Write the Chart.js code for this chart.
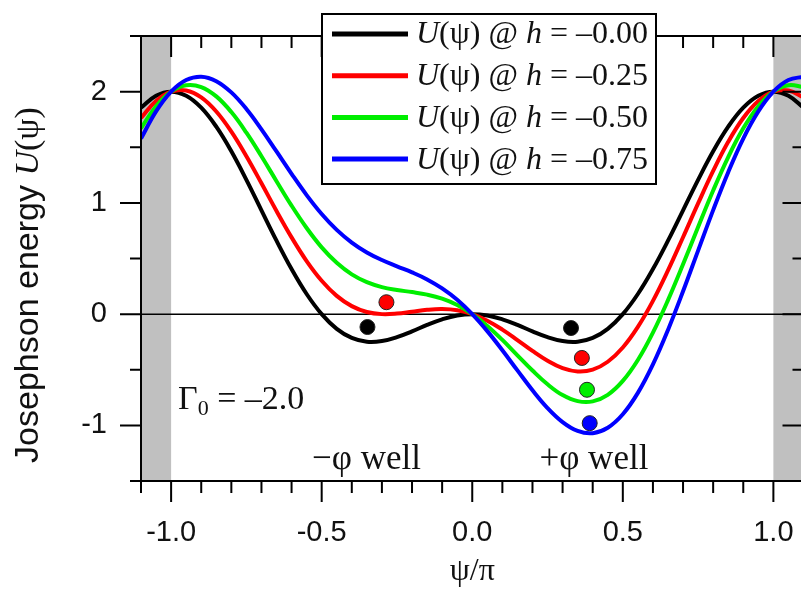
<!DOCTYPE html>
<html>
<head>
<meta charset="utf-8">
<script src="https://cdn.jsdelivr.net/npm/chart.js@4.4.0/dist/chart.umd.min.js"></script>
<style>
html, body { margin: 0; padding: 0; background: #fff; overflow: hidden; }
#wrap { position: absolute; left: 0; top: 0; width: 812px; height: 589px; }
</style>
</head>
<body>
<div id="wrap"><canvas id="chart1" width="812" height="589"></canvas></div>
<script>
/* ---------------- data ---------------- */
const psi = [-1.10, -1.05, -1.00, -0.95, -0.90, -0.85, -0.80, -0.75, -0.70, -0.65, -0.60, -0.55,
             -0.50, -0.45, -0.40, -0.35, -0.30, -0.25, -0.20, -0.15, -0.10, -0.05, 0.00,
              0.05, 0.10, 0.15, 0.20, 0.25, 0.30, 0.35, 0.40, 0.45, 0.50, 0.55, 0.60, 0.65,
              0.70, 0.75, 0.80, 0.85, 0.90, 0.95, 1.00, 1.05, 1.10];

const u000 = [1.856, 1.963, 2.000, 1.963, 1.856, 1.685, 1.464, 1.207, 0.933, 0.660, 0.405, 0.181,
              0.000, -0.132, -0.214, -0.248, -0.242, -0.207, -0.155, -0.097, -0.047, -0.012, 0.000,
              -0.012, -0.047, -0.097, -0.155, -0.207, -0.242, -0.248, -0.214, -0.132, 0.000, 0.181,
              0.405, 0.660, 0.933, 1.207, 1.464, 1.685, 1.856, 1.963, 2.000, 1.963, 1.856];
const u025 = [1.763, 1.916, 2.000, 2.010, 1.948, 1.821, 1.640, 1.419, 1.176, 0.927, 0.690, 0.477,
              0.300, 0.164, 0.072, 0.019, 0.000, 0.005, 0.022, 0.039, 0.046, 0.035, 0.000,
              -0.059, -0.139, -0.233, -0.331, -0.419, -0.485, -0.515, -0.499, -0.428, -0.300, -0.115,
              0.119, 0.393, 0.691, 0.995, 1.287, 1.549, 1.763, 1.916, 2.000, 2.010, 1.948];
const u050 = [1.670, 1.869, 2.000, 2.057, 2.041, 1.957, 1.816, 1.631, 1.419, 1.195, 0.975, 0.774,
              0.600, 0.461, 0.357, 0.287, 0.243, 0.217, 0.198, 0.175, 0.139, 0.082, 0.000,
              -0.106, -0.232, -0.370, -0.507, -0.631, -0.728, -0.782, -0.784, -0.725, -0.600, -0.412,
              -0.166, 0.126, 0.448, 0.783, 1.111, 1.412, 1.670, 1.869, 2.000, 2.057, 2.041];
const u075 = [1.578, 1.822, 2.000, 2.104, 2.134, 2.094, 1.993, 1.844, 1.661, 1.462, 1.261, 1.070,
              0.900, 0.757, 0.643, 0.554, 0.486, 0.429, 0.375, 0.312, 0.231, 0.129, 0.000,
              -0.153, -0.325, -0.506, -0.684, -0.844, -0.970, -1.050, -1.070, -1.021, -0.900, -0.708,
              -0.452, -0.142, 0.205, 0.571, 0.935, 1.276, 1.578, 1.822, 2.000, 2.104, 2.134];

const hLabels = ['–0.00', '–0.25', '–0.50', '–0.75'];

// marked well minima
const dotX = [-0.348, -0.285, 0.328, 0.364, 0.381, 0.390];
const dotY = [-0.116, 0.107, -0.125, -0.394, -0.680, -0.980];
const dotColors = ['#000000', '#ff0000', '#000000', '#ff0000', '#00ee00', '#0000ff'];

// shaded ranges outside [-pi, pi]
const bands = [[-1.1, -1.0], [1.0, 1.1]];

const xMajorTicks = [-1.0, -0.5, 0.0, 0.5, 1.0];
const yMajorTicks = [-1, 0, 1, 2];

/* ---------------- chart ---------------- */
const lineColors = ['#000000', '#ff0000', '#00ee00', '#0000ff'];
const seriesList = [u000, u025, u050, u075];

const datasets = seriesList.map((vals, k) => ({
    type: 'line',
    label: 'U(ψ) @ h = ' + hLabels[k],
    data: psi.map((x, i) => ({ x: x, y: vals[i] })),
    borderColor: lineColors[k],
    borderWidth: 4,
    pointRadius: 0,
    tension: 0.4,
    fill: false,
    order: 4 - k
}));
datasets.push({
    type: 'scatter',
    label: 'wells',
    data: dotX.map((x, i) => ({ x: x, y: dotY[i] })),
    pointRadius: 7.5,
    pointBackgroundColor: dotColors,
    pointBorderColor: '#222',
    pointBorderWidth: 1,
    order: 0
});

const SERIF = '"Liberation Serif", "Times New Roman", serif';
const SANS = '"Liberation Sans", Arial, sans-serif';

function drawPieces(ctx, pieces, x, y, size) {
    // pieces: [text, italic, family]
    pieces.forEach(p => {
        ctx.font = (p[1] ? 'italic ' : '') + size + 'px ' + (p[2] || SERIF);
        ctx.fillText(p[0], x, y);
        x += ctx.measureText(p[0]).width;
    });
    return x;
}

function piecesWidth(ctx, pieces, size) {
    let w = 0;
    pieces.forEach(p => {
        ctx.font = (p[1] ? 'italic ' : '') + size + 'px ' + (p[2] || SERIF);
        w += ctx.measureText(p[0]).width;
    });
    return w;
}

function noPad(s) {
    s.paddingLeft = 0; s.paddingRight = 0; s.paddingTop = 0; s.paddingBottom = 0;
}

const decor = {
    id: 'decor',
    beforeDatasetsDraw(chart) {
        const { ctx, chartArea: a, scales: { x, y } } = chart;
        ctx.save();
        ctx.fillStyle = '#c0c0c0';
        bands.forEach(b => {
            const x0 = x.getPixelForValue(b[0]), x1 = x.getPixelForValue(b[1]);
            ctx.fillRect(x0, a.top, x1 - x0, a.bottom - a.top);
        });
        ctx.strokeStyle = '#000';
        ctx.lineWidth = 1.5;
        ctx.beginPath();
        ctx.moveTo(a.left, y.getPixelForValue(0));
        ctx.lineTo(a.right, y.getPixelForValue(0));
        ctx.stroke();
        ctx.restore();
    },
    afterDraw(chart) {
        const { ctx, chartArea: a, scales: { x, y } } = chart;
        ctx.save();
        ctx.strokeStyle = '#000';
        ctx.lineWidth = 2;
        ctx.lineCap = 'butt';

        // frame
        ctx.strokeRect(a.left, a.top, a.right - a.left, a.bottom - a.top);

        // ticks, outside on bottom/left, inside on top/right
        ctx.beginPath();
        for (let i = -11; i <= 11; i++) {
            const px = x.getPixelForValue(i / 10);
            const len = (i % 5 === 0) ? 21 : 12;
            ctx.moveTo(px, a.bottom); ctx.lineTo(px, a.bottom + len);
            ctx.moveTo(px, a.top); ctx.lineTo(px, a.top + len);
        }
        for (let j = -3; j <= 5; j++) {
            const py = y.getPixelForValue(j / 2);
            const len = (j % 2 === 0) ? 21 : 11;
            ctx.moveTo(a.left, py); ctx.lineTo(a.left - len, py);
            ctx.moveTo(a.right, py); ctx.lineTo(a.right - len, py);
        }
        ctx.stroke();

        // texts
        ctx.fillStyle = '#111';
        ctx.textBaseline = 'alphabetic';
        ctx.textAlign = 'left';
        let gx = x.getPixelForValue(-0.977), gy = y.getPixelForValue(-0.85);
        ctx.font = '34px ' + SERIF;
        ctx.fillText('Γ', gx, gy);
        gx += ctx.measureText('Γ').width;
        ctx.font = '22px ' + SERIF;
        ctx.fillText('0', gx, gy + 6);
        gx += ctx.measureText('0').width;
        ctx.font = '34px ' + SERIF;
        ctx.fillText(' = –2.0', gx, gy);

        ctx.textAlign = 'center';
        ctx.font = '35px ' + SERIF;
        ctx.fillText('−φ well', x.getPixelForValue(-0.351), y.getPixelForValue(-1.388));
        ctx.fillText('+φ well', x.getPixelForValue(0.404), y.getPixelForValue(-1.388));
        ctx.font = '32px ' + SERIF;
        ctx.fillText('ψ/π', x.getPixelForValue(0), 580);

        // y axis title
        const yt = [['Josephson energy ', false, SANS], ['U', true], ['(ψ)', false]];
        ctx.save();
        ctx.translate(29, 285);
        ctx.rotate(-Math.PI / 2);
        ctx.textAlign = 'left';
        ctx.textBaseline = 'middle';
        const tw = piecesWidth(ctx, yt, 34);
        drawPieces(ctx, yt, -tw / 2, 0, 34);
        ctx.restore();

        // legend box
        const lx = 322, ly = 14, lw = 334, lh = 170;
        ctx.fillStyle = '#fff';
        ctx.fillRect(lx, ly, lw, lh);
        ctx.lineWidth = 2;
        ctx.strokeStyle = '#000';
        ctx.strokeRect(lx, ly, lw, lh);
        ctx.textAlign = 'left';
        ctx.textBaseline = 'middle';
        chart.data.datasets.slice(0, 4).forEach((ds, k) => {
            const ry = 34 + k * 41.7;
            ctx.strokeStyle = ds.borderColor;
            ctx.lineWidth = 5;
            ctx.beginPath();
            ctx.moveTo(332, ry); ctx.lineTo(408, ry);
            ctx.stroke();
            ctx.fillStyle = '#111';
            const parts = ds.label.split(/([Uh])/).filter(s => s.length)
                .map(s => [s, s === 'U' || s === 'h']);
            drawPieces(ctx, parts, 416, ry + 1, 32);
        });
        ctx.restore();
    }
};

const ctx1 = document.getElementById('chart1').getContext('2d');
const myChart = new Chart(ctx1, {
    type: 'line',
    data: { datasets: datasets },
    options: {
        responsive: false,
        animation: false,
        devicePixelRatio: 1,
        layout: { padding: { left: 0, right: 6, top: 36, bottom: 0 } },
        plugins: {
            legend: { display: false },
            tooltip: { enabled: false }
        },
        scales: {
            x: {
                type: 'linear',
                min: -1.1,
                max: 1.1,
                grid: { display: false, drawTicks: false },
                border: { display: false },
                afterBuildTicks: s => { s.ticks = xMajorTicks.map(v => ({ value: v })); },
                afterFit: s => { s.height = 108; noPad(s); },
                ticks: {
                    font: { family: SANS, size: 29 },
                    color: '#111',
                    padding: 35,
                    maxRotation: 0,
                    autoSkip: false,
                    callback: v => v.toFixed(1)
                }
            },
            y: {
                type: 'linear',
                min: -1.5,
                max: 2.5,
                grid: { display: false, drawTicks: false },
                border: { display: false },
                afterBuildTicks: s => { s.ticks = yMajorTicks.map(v => ({ value: v })); },
                afterFit: s => { s.width = 141; noPad(s); },
                ticks: {
                    font: { family: SANS, size: 29 },
                    color: '#111',
                    padding: 34,
                    callback: v => String(v)
                }
            }
        }
    },
    plugins: [decor]
});
</script>
</body>
</html>
